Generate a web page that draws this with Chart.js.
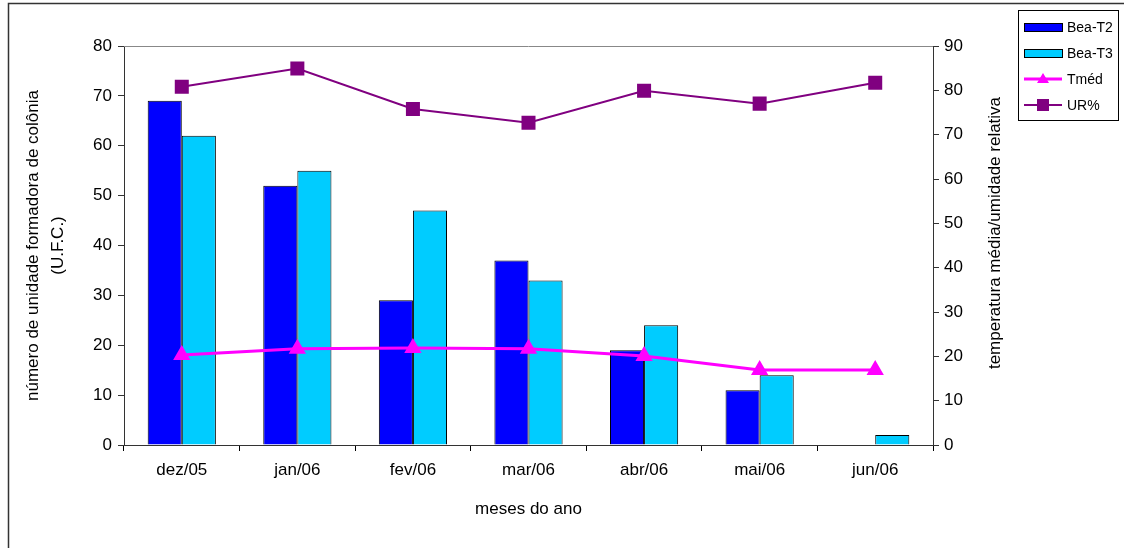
<!DOCTYPE html>
<html>
<head>
<meta charset="utf-8">
<script src="https://cdn.jsdelivr.net/npm/chart.js@4/dist/chart.umd.min.js"></script>
<style>
  html, body { margin: 0; padding: 0; background: #fff; }
  #wrap { width: 1124px; height: 548px; position: relative; }
</style>
</head>
<body>
<div id="wrap"><canvas id="myChart" width="1124" height="548"></canvas></div>
<script>
const meses = ['dez/05', 'jan/06', 'fev/06', 'mar/06', 'abr/06', 'mai/06', 'jun/06'];
const beaT2 = [69, 52, 29, 37, 19, 11, 0];
const beaT3 = [62, 55, 47, 33, 24, 14, 2];
const tmed = [20.3, 21.7, 21.9, 21.7, 20.1, 16.9, 16.9];
const ur = [80.8, 84.9, 75.8, 72.7, 79.9, 77.0, 81.7];

const FONT = "'Liberation Sans', Arial, sans-serif";
const FS = 17;

// moldura, borda superior da área do gráfico, título direito e legenda
const extras = {
    id: 'extras',
    afterDraw(chart) {
        const ctx = chart.ctx;
        const a = chart.chartArea;
        ctx.save();
        // moldura externa
        ctx.strokeStyle = '#333';
        ctx.lineWidth = 1.5;
        ctx.beginPath();
        ctx.moveTo(8.5, 548);
        ctx.lineTo(8.5, 3.5);
        ctx.lineTo(1124, 3.5);
        ctx.stroke();
        // topo da área
        ctx.strokeStyle = '#888';
        ctx.lineWidth = 1;
        ctx.beginPath();
        ctx.moveTo(a.left, a.top + 0.5);
        ctx.lineTo(a.right, a.top + 0.5);
        ctx.stroke();
        // título eixo direito (de baixo para cima)
        ctx.fillStyle = '#000';
        ctx.font = FS + 'px ' + FONT;
        ctx.textAlign = 'center';
        ctx.textBaseline = 'middle';
        ctx.translate(995, 233);
        ctx.rotate(-Math.PI / 2);
        ctx.fillText('temperatura média/umidade relativa', 0, 0);
        ctx.setTransform(1, 0, 0, 1, 0, 0);
        // legenda
        ctx.strokeStyle = '#000';
        ctx.lineWidth = 1;
        ctx.strokeRect(1018.5, 10.5, 100, 110);
        ctx.font = '14px ' + FONT;
        ctx.textAlign = 'left';
        const ds = chart.data.datasets;
        const items = [ds[2], ds[3], ds[0], ds[1]];
        items.forEach((d, i) => {
            const y = 27 + i * 26;
            if (d.type === 'bar') {
                ctx.fillStyle = d.backgroundColor;
                ctx.fillRect(1024, y - 4, 38, 8);
                ctx.strokeStyle = '#000';
                ctx.strokeRect(1024.5, y - 3.5, 38, 8);
            } else {
                ctx.strokeStyle = d.borderColor;
                ctx.lineWidth = d.borderWidth;
                ctx.beginPath();
                ctx.moveTo(1024, y);
                ctx.lineTo(1062, y);
                ctx.stroke();
                ctx.fillStyle = d.pointBackgroundColor;
                if (d.pointStyle === 'triangle') {
                    ctx.beginPath();
                    ctx.moveTo(1043, y - 6);
                    ctx.lineTo(1049, y + 4);
                    ctx.lineTo(1037, y + 4);
                    ctx.closePath();
                    ctx.fill();
                } else {
                    ctx.fillRect(1037, y - 6, 12, 12);
                }
                ctx.lineWidth = 1;
            }
            ctx.fillStyle = '#000';
            ctx.fillText(d.label, 1067, y + 1);
        });
        ctx.restore();
    }
};

new Chart(document.getElementById('myChart'), {
    data: {
        labels: meses,
        datasets: [
            {
                type: 'line', label: 'Tméd', data: tmed, yAxisID: 'y1', order: 1,
                borderColor: '#FF00FF', borderWidth: 3,
                pointStyle: 'triangle', pointRadius: 7,
                pointBackgroundColor: '#FF00FF', pointBorderColor: '#FF00FF'
            },
            {
                type: 'line', label: 'UR%', data: ur, yAxisID: 'y1', order: 1,
                borderColor: '#800080', borderWidth: 2,
                pointStyle: 'rect', pointRadius: 8.5,
                pointBackgroundColor: '#800080', pointBorderColor: '#800080'
            },
            {
                type: 'bar', label: 'Bea-T2', data: beaT2, yAxisID: 'y', order: 2,
                backgroundColor: '#0000FF', borderColor: '#000', borderWidth: 1
            },
            {
                type: 'bar', label: 'Bea-T3', data: beaT3, yAxisID: 'y', order: 2,
                backgroundColor: '#00CCFF', borderColor: '#000', borderWidth: 1
            }
        ]
    },
    options: {
        responsive: false,
        animation: false,
        categoryPercentage: 0.59,
        barPercentage: 1,
        layout: { padding: { top: 46, left: 0, right: 0, bottom: 0 } },
        plugins: {
            legend: { display: false },
            tooltip: { enabled: false }
        },
        scales: {
            x: {
                offset: true,
                grid: { drawOnChartArea: false, tickLength: 6, color: '#000', offset: true },
                border: { color: '#333' },
                ticks: { color: '#000', font: { family: FONT, size: FS }, padding: 9 },
                title: { display: true, text: 'meses do ano', color: '#000', font: { family: FONT, size: FS }, padding: { top: 10, bottom: 28 } },
                afterFit(s) { s.height = 103; }
            },
            y: {
                position: 'left', min: 0, max: 80,
                ticks: { stepSize: 10, color: '#000', font: { family: FONT, size: FS }, padding: 6 },
                grid: { drawOnChartArea: false, tickLength: 6, color: '#333' },
                border: { color: '#333' },
                title: {
                    display: true,
                    text: ['número de unidade formadora de colônia', '(U.F.C.)'],
                    color: '#000', font: { family: FONT, size: FS, lineHeight: 1.45 }, padding: { top: 21 }
                },
                afterFit(s) { s.width = 124; }
            },
            y1: {
                position: 'right', min: 0, max: 90,
                ticks: { stepSize: 10, color: '#000', font: { family: FONT, size: FS }, padding: 5 },
                grid: { drawOnChartArea: false, tickLength: 6, color: '#333' },
                border: { color: '#333' },
                afterFit(s) { s.width = 191; }
            }
        }
    },
    plugins: [extras]
});
</script>
</body>
</html>
